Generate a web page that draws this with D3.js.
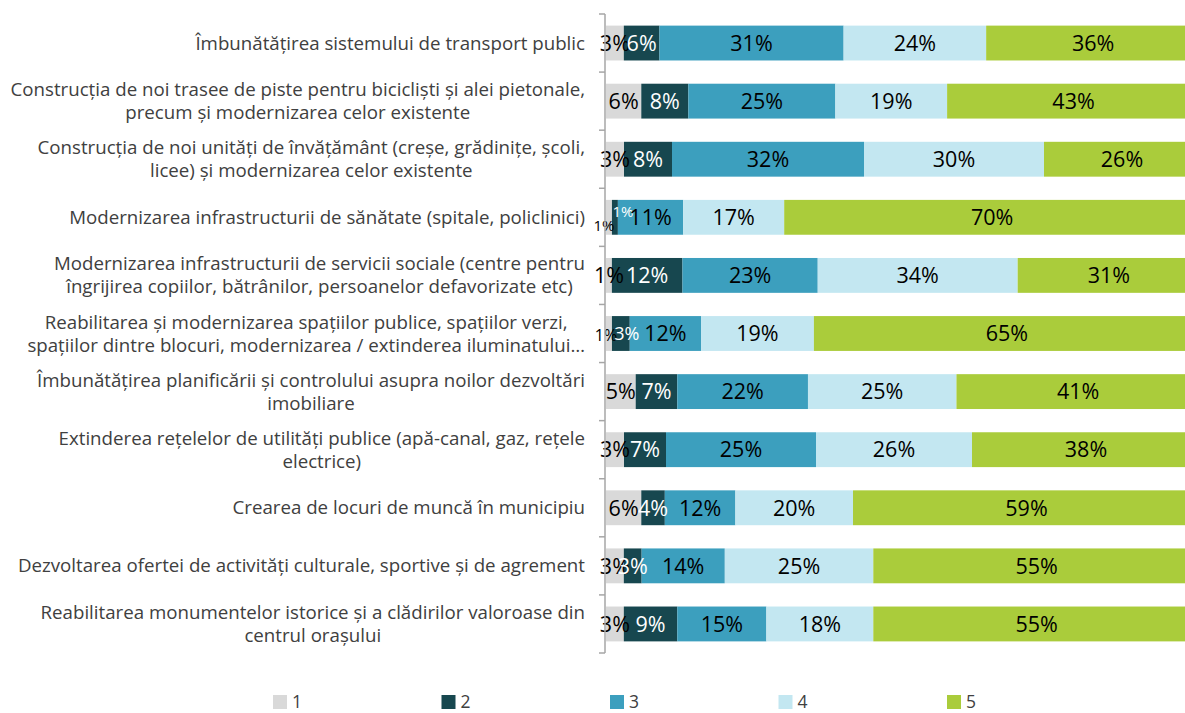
<!DOCTYPE html>
<html>
<head>
<meta charset="utf-8">
<script src="https://cdn.jsdelivr.net/npm/d3@7"></script>
<style>
  html, body { margin: 0; padding: 0; background: #ffffff; overflow: hidden; }
  svg { display: block; }
</style>
</head>
<body>
<svg id="chart" width="1185" height="713"></svg>
<script>
// Survey items (each label split into its displayed lines)
const categories = [
  ["Îmbunătățirea sistemului de transport public"],
  ["Construcția de noi trasee de piste pentru bicicliști și alei pietonale,", "precum și modernizarea celor existente"],
  ["Construcția de noi unități de învățământ (creșe, grădinițe, școli,", "licee) și modernizarea celor existente"],
  ["Modernizarea infrastructurii de sănătate (spitale, policlinici)"],
  ["Modernizarea infrastructurii de servicii sociale (centre pentru", "îngrijirea copiilor, bătrânilor, persoanelor defavorizate etc)"],
  ["Reabilitarea și modernizarea spațiilor publice, spațiilor verzi,", "spațiilor dintre blocuri, modernizarea / extinderea iluminatului…"],
  ["Îmbunătățirea planificării și controlului asupra noilor dezvoltări", "imobiliare"],
  ["Extinderea rețelelor de utilități publice (apă-canal, gaz, rețele", "electrice)"],
  ["Crearea de locuri de muncă în municipiu"],
  ["Dezvoltarea ofertei de activități culturale, sportive și de agrement"],
  ["Reabilitarea monumentelor istorice și a clădirilor valoroase din", "centrul orașului"]
];

// Rating scale 1..5
const seriesNames = ["1", "2", "3", "4", "5"];

// Percentages per rating, one array per rating, in category order
const score1 = [3, 6, 3, 1, 1, 1, 5, 3, 6, 3, 3];
const score2 = [6, 8, 8, 1, 12, 3, 7, 7, 4, 3, 9];
const score3 = [31, 25, 32, 11, 23, 12, 22, 25, 12, 14, 15];
const score4 = [24, 19, 30, 17, 34, 19, 25, 26, 20, 25, 18];
const score5 = [36, 43, 26, 70, 31, 65, 41, 38, 59, 55, 55];

const seriesColors = ["#d9d9d9", "#17474f", "#3c9fbe", "#c3e7f1", "#aacc3b"];
const labelColors = ["#000000", "#ffffff", "#000000", "#000000", "#000000"];

// Narrow segments whose labels are set smaller and nudged to stay readable
const labelTweaks = [
  { row: 3, series: 0, size: 15, dx: -5, dy: 8 },
  { row: 3, series: 1, size: 15, dx: 8, dy: -6 },
  { row: 5, series: 0, size: 16, dx: -3, dy: 2 },
  { row: 5, series: 1, size: 18, dx: 6, dy: 0 }
];

const allScores = [score1, score2, score3, score4, score5];

// Build rows for the stack; each row normalised to 100 %
const rows = categories.map((c, i) => {
  const row = { key: i };
  const total = d3.sum(allScores, s => s[i]);
  seriesNames.forEach((name, k) => {
    row[name] = allScores[k][i] / total;
    row["v" + name] = allScores[k][i];
  });
  return row;
});

const svg = d3.select("#chart");
const fontFamily = "'Open Sans', 'Noto Sans', sans-serif";

// The plot area runs slightly past the right edge of the frame
const x = d3.scaleLinear().domain([0, 1]).range([606, 1200]);
const y = d3.scaleBand()
  .domain(d3.range(categories.length))
  .range([14, 653])
  .paddingInner(0.4)
  .paddingOuter(0.2);

const stack = d3.stack().keys(seriesNames);
const layers = stack(rows);

// Bars
const layerG = svg.append("g").selectAll("g")
  .data(layers)
  .join("g")
  .attr("fill", (d, k) => seriesColors[k]);

layerG.selectAll("rect")
  .data(d => d)
  .join("rect")
  .attr("x", d => x(d[0]))
  .attr("y", (d, i) => y(i))
  .attr("width", d => x(d[1]) - x(d[0]))
  .attr("height", y.bandwidth());

// Value labels
const labelG = svg.append("g")
  .attr("font-family", fontFamily)
  .attr("text-anchor", "middle");

layers.forEach((layer, k) => {
  layer.forEach((d, i) => {
    const tw = labelTweaks.find(t => t.row === i && t.series === k);
    const cx = (x(d[0]) + x(d[1])) / 2 + (tw ? tw.dx : 0);
    const cy = y(i) + y.bandwidth() / 2 + (tw ? tw.dy : 0);
    labelG.append("text")
      .attr("x", cx)
      .attr("y", cy)
      .attr("dy", "0.36em")
      .attr("font-size", tw ? tw.size : 21.5)
      .attr("fill", labelColors[k])
      .text(d.data["v" + seriesNames[k]] + "%");
  });
});

// Category axis: vertical line with ticks at band boundaries
const axisG = svg.append("g").attr("stroke", "#a6a6a6").attr("stroke-width", 1.5);
axisG.append("line")
  .attr("x1", 605).attr("x2", 605)
  .attr("y1", 14).attr("y2", 653);
const boundaries = d3.range(categories.length + 1).map(i => 14 + i * y.step());
axisG.selectAll("line.tick")
  .data(boundaries)
  .join("line")
  .attr("class", "tick")
  .attr("x1", 599).attr("x2", 605)
  .attr("y1", d => d).attr("y2", d => d);

// Category labels: lines centred on each other, right edge at the axis gap
const catG = svg.append("g")
  .attr("font-family", fontFamily)
  .attr("font-size", 18.7)
  .attr("fill", "#404040")
  .attr("text-anchor", "middle");

categories.forEach((lines, i) => {
  const t = catG.append("text");
  const lineH = 23;
  const cy = y(i) + y.bandwidth() / 2;
  const y0 = cy - (lines.length - 1) * lineH / 2;
  const spans = lines.map((ln, j) =>
    t.append("tspan").attr("y", y0 + j * lineH).attr("dy", "0.35em").text(ln));
  const maxW = d3.max(spans, s => s.node().getComputedTextLength());
  spans.forEach(s => s.attr("x", 585 - maxW / 2));
});

// Legend
const legend = svg.append("g")
  .attr("font-family", fontFamily)
  .attr("font-size", 17.5)
  .attr("fill", "#404040");
const legendX = d3.scalePoint().domain(seriesNames).range([273, 947]);
seriesNames.forEach((name, k) => {
  const g = legend.append("g").attr("transform", `translate(${legendX(name)},695)`);
  g.append("rect").attr("width", 14).attr("height", 14).attr("fill", seriesColors[k]);
  g.append("text").attr("x", 19).attr("y", 7).attr("dy", "0.34em").text(name);
});
</script>
</body>
</html>
